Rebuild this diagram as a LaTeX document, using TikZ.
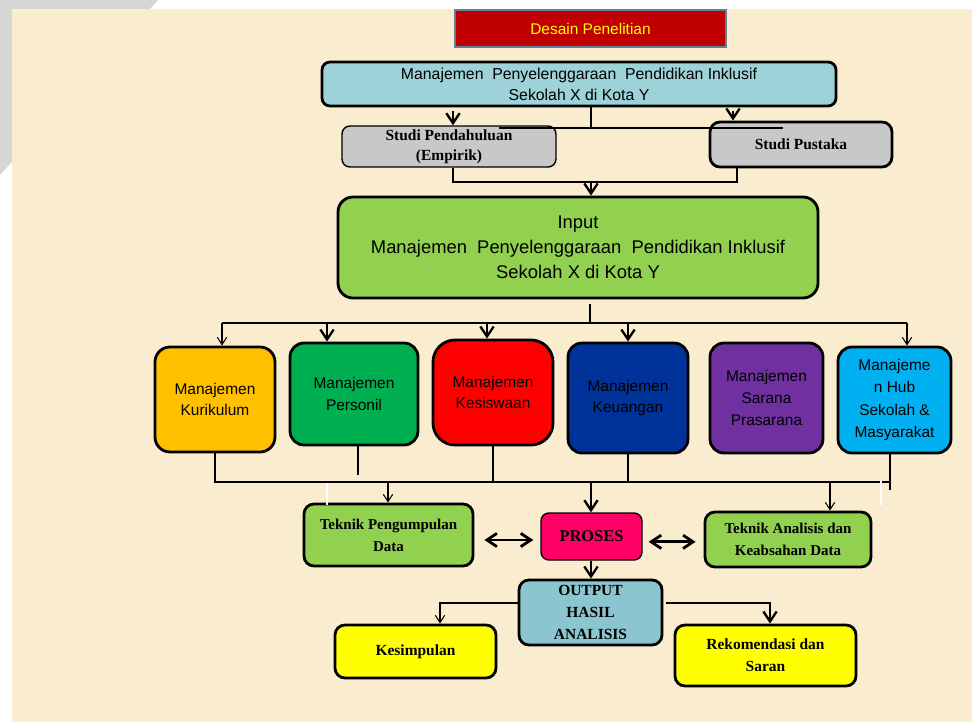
\documentclass[tikz,border=0pt]{standalone}
\usepackage{fontspec}
\setmainfont{Liberation Serif}
\setsansfont{Liberation Sans}
\usepackage{tikz}
\usetikzlibrary{positioning}
\usetikzlibrary{arrows.meta}
\definecolor{kertas}{RGB}{250,237,207}
\definecolor{abumuda}{RGB}{214,214,214}
\definecolor{merahtua}{RGB}{192,0,0}
\definecolor{abubiru}{RGB}{96,128,150}
\definecolor{kuning}{RGB}{255,255,0}
\definecolor{birumuda}{RGB}{157,211,216}
\definecolor{abu}{RGB}{200,200,200}
\definecolor{hijau}{RGB}{146,208,80}
\definecolor{oranye}{RGB}{255,192,0}
\definecolor{hijautua}{RGB}{0,176,80}
\definecolor{merah}{RGB}{255,0,0}
\definecolor{biru}{RGB}{0,51,153}
\definecolor{ungu}{RGB}{112,48,160}
\definecolor{cyan}{RGB}{0,176,240}
\definecolor{pink}{RGB}{255,0,102}
\definecolor{tosca}{RGB}{139,197,207}
\tikzstyle{kotak} = [rectangle, draw=black, line width=2.4pt, rounded corners=3mm, align=center, inner sep=0pt]
\tikzstyle{kotak_sf} = [kotak, font=\sffamily\fontsize{13.2}{18.5}\selectfont]
\tikzstyle{kotak_rm} = [kotak, font=\bfseries\fontsize{13.2}{18.8}\selectfont]
\tikzstyle{garis} = [line width=2pt]
\tikzstyle{garis_t} = [line width=0.9pt]
\tikzstyle{panah} = [garis, -{Straight Barb[length=3mm,width=4mm]}]
\tikzstyle{panah_t} = [garis_t, -{Straight Barb[length=2.2mm,width=2.8mm]}]
\tikzstyle{dua} = [garis, line width=2.4pt, {Straight Barb[length=3mm,width=4mm]}-{Straight Barb[length=3mm,width=4mm]}]

\begin{document}
\begin{tikzpicture}[x=0.03cm, y=-0.03cm]
\useasboundingbox (0,0) rectangle (972,722);
\fill[white] (0,0) rectangle (972,722);
\fill[abumuda] (0,0) -- (158,0) -- (0,175) -- cycle;
\fill[kertas] (12,9) rectangle (972,722);

% judul dan kotak atas
\node[kotak, rounded corners=0pt, fill=merahtua, draw=abubiru, line width=1.6pt, minimum width=8.13cm, minimum height=1.11cm, text=kuning, font=\sffamily\fontsize{13.2}{16}\selectfont] (judul) at (590.5,28.5) {Desain Penelitian};
\node[kotak_sf, fill=birumuda, minimum width=15.42cm, minimum height=1.32cm, rounded corners=2.4mm, font=\sffamily\fontsize{13.5}{18}\selectfont] (atas) at (579,84) {Manajemen\ \ Penyelenggaraan\ \ Pendidikan Inklusif\\Sekolah X di Kota Y};
\node[kotak_rm, fill=abu, line width=1.2pt, minimum width=6.42cm, minimum height=1.23cm, rounded corners=2.4mm, font=\bfseries\fontsize{13.2}{17}\selectfont] (studi1) at (449,146.5) {Studi Pendahuluan\\(Empirik)};
\node[kotak_rm, fill=abu, minimum width=5.46cm, minimum height=1.35cm] (studi2) at (801,144.5) {Studi Pustaka};
\node[kotak_sf, fill=hijau, minimum width=14.4cm, minimum height=3.03cm, rounded corners=4.5mm, font=\sffamily\fontsize{15.7}{21.3}\selectfont] (input) at (578,247.5) {Input\\Manajemen\ \ Penyelenggaraan\ \ Pendidikan Inklusif\\Sekolah X di Kota Y};

% enam bidang manajemen
\node[kotak_sf, fill=oranye, minimum width=3.6cm, minimum height=3.15cm, rounded corners=4.5mm] (kur) at (215,399.5) {Manajemen\\Kurikulum};
\node[kotak_sf, fill=hijautua, minimum width=3.84cm, minimum height=3.06cm, rounded corners=4.2mm] (per) at (354,394) {Manajemen\\Personil};
\node[kotak_sf, fill=merah, minimum width=3.6cm, minimum height=3.15cm, rounded corners=6.6mm] (kes) at (493,392.5) {Manajemen\\Kesiswaan};
\node[kotak_sf, fill=biru, minimum width=3.6cm, minimum height=3.3cm, rounded corners=4.2mm] (keu) at (628,398) {Manajemen\\Keuangan};
\node[kotak_sf, fill=ungu, minimum width=3.39cm, minimum height=3.3cm, rounded corners=4.2mm] (sar) at (766.5,398) {Manajemen\\Sarana\\Prasarana};
\node[kotak_sf, fill=cyan, minimum width=3.39cm, minimum height=3.18cm, rounded corners=4.2mm, font=\sffamily\fontsize{13.2}{19}\selectfont] (hub) at (894.5,400) {Manajeme\\n Hub\\Sekolah \&\\Masyarakat};

% proses dan output
\node[kotak_rm, fill=hijau, minimum width=5.07cm, minimum height=1.86cm, font=\bfseries\fontsize{12.8}{18.8}\selectfont] (tek1) at (388.5,535) {Teknik Pengumpulan\\Data};
\node[kotak_rm, fill=pink, line width=1.2pt, minimum width=3.03cm, minimum height=1.41cm, rounded corners=2.4mm, font=\bfseries\fontsize{14}{18}\selectfont] (proses) at (591.5,536.5) {PROSES};
\node[kotak_rm, fill=hijau, minimum width=4.98cm, minimum height=1.65cm, font=\bfseries\fontsize{12.8}{18.8}\selectfont] (tek2) at (788,539.5) {Teknik Analisis dan\\Keabsahan Data};
\node[kotak_rm, fill=tosca, minimum width=4.29cm, minimum height=1.95cm] (output) at (590.5,612.5) {OUTPUT\\HASIL\\ANALISIS};
\node[kotak_rm, fill=kuning, minimum width=4.83cm, minimum height=1.59cm] (kesimpulan) at (415.5,651.5) {Kesimpulan};
\node[kotak_rm, fill=kuning, minimum width=5.43cm, minimum height=1.83cm] (rek) at (765.5,655.5) {Rekomendasi dan\\Saran};

% garis bagian atas
\coordinate (a1) at (591,128);
\coordinate (a2) at (499,128);
\coordinate (a3) at (783,128);
\coordinate (b1) at (453,111);
\coordinate (b2) at (733,111);
\coordinate (c1) at (453,182);
\coordinate (c2) at (737,182);
\draw[garis] (atas.south -| a1) -- (a1);
\draw[garis] (a2) -- (a3);
\draw[panah] (b1) -- (b1 |- studi1.north);
\draw[panah] (b2) -- (b2 |- studi2.north);
\draw[garis] (studi1.south -| c1) -- (c1) -- (c2) -- (studi2.south -| c2);
\draw[panah] (c1 -| a1) -- (input.north -| a1);

% cabang ke bidang manajemen
\coordinate (d0) at (590,304);
\coordinate (dL) at (222,323);
\coordinate (dR) at (907,323);
\coordinate (e1) at (327,323);
\coordinate (e2) at (487,323);
\coordinate (e3) at (628,323);
\draw[garis] (d0) -- (d0 |- dL);
\draw[garis] (dL) -- (dR);
\draw[panah_t] (dL) -- (dL |- kur.north);
\foreach \t/\k in {e1/per, e2/kes, e3/keu}
  \draw[panah] (\t) -- (\t |- \k.north);
\draw[panah_t] (dR) -- (dR |- hub.north);

% gabungan ke proses
\coordinate (f1) at (215,482);
\coordinate (f2) at (890,482);
\coordinate (f3) at (890,490);
\coordinate (h1) at (358,475);
\draw[garis] (kur.south -| f1) -- (f1) -- (f2);
\draw[garis] (hub.south -| f2) -- (f3);
\draw[garis_t] (per.south -| h1) -- (h1);
\draw[garis] (kes.south) -- (kes.south |- f1);
\draw[garis] (keu.south) -- (keu.south |- f1);
\draw[white, line width=1.5pt] (327,483) -- (327,505);
\draw[white, line width=1.5pt] (881,480) -- (881,505);
\coordinate (k1) at (388,482);
\coordinate (k2) at (591,482);
\coordinate (k3) at (830,482);
\draw[panah_t] (k1) -- (k1 |- tek1.north);
\draw[panah] (k2) -- (k2 |- proses.north);
\draw[panah_t] (k3) -- (k3 |- tek2.north);
\draw[dua, shorten <=3mm, shorten >=2.1mm] ([yshift=-1.5mm]tek1.east) -- ([yshift=-1.5mm]tek1.east -| proses.west);
\draw[dua, shorten <=1.8mm, shorten >=2.4mm] ([yshift=-1.6mm]proses.east) -- ([yshift=-1.6mm]proses.east -| tek2.west);

% output
\coordinate (m1) at (440,603);
\coordinate (m2) at (770,603);
\coordinate (m3) at (666,603);
\draw[panah] (proses.south -| k2) -- (output.north -| k2);
\draw[panah_t] (output.west |- m1) -- (m1) -- (m1 |- kesimpulan.north);
\draw[panah] (m3) -- (m2) -- (m2 |- rek.north);
\end{tikzpicture}
\end{document}
